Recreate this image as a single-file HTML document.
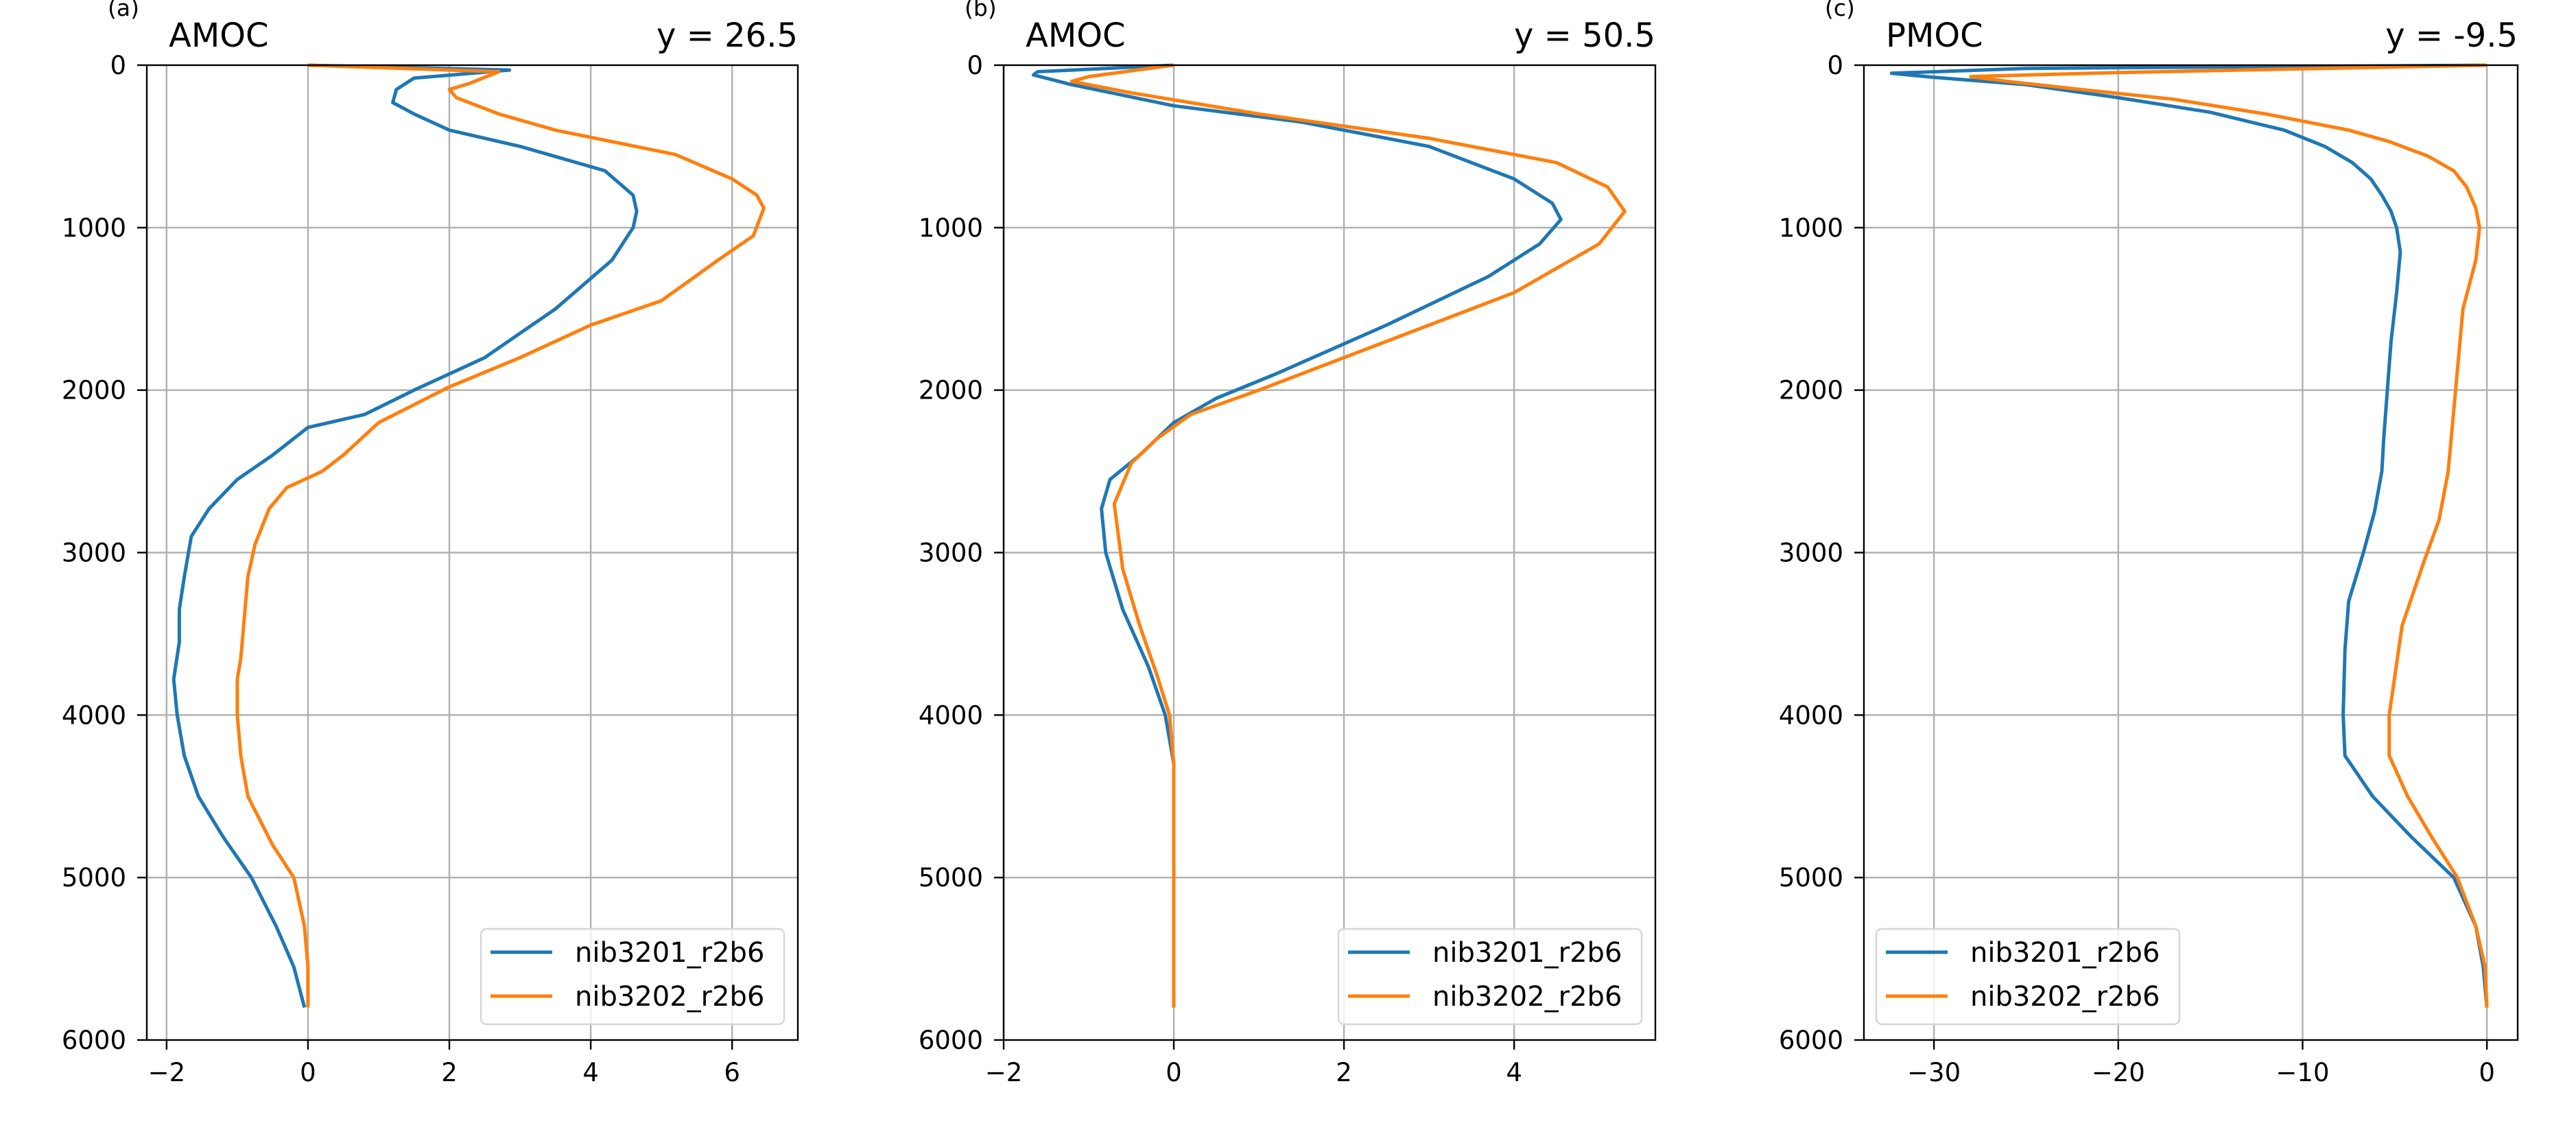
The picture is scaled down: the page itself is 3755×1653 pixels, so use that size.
<!DOCTYPE html>
<html><head><meta charset="utf-8"><style>
html,body{margin:0;padding:0;background:#fff;}
svg{display:block;font-family:"DejaVu Sans","Liberation Sans",sans-serif;}
</style></head><body>
<svg id="s" width="3755" height="1653" viewBox="0 0 3755 1653" xmlns="http://www.w3.org/2000/svg"></svg>
<script>
const S=document.getElementById('s');
const NS='http://www.w3.org/2000/svg';
function el(t,a,txt){const e=document.createElementNS(NS,t);for(const k in a)e.setAttribute(k,a[k]);if(txt!==undefined)e.textContent=txt;S.appendChild(e);return e;}
const TOP=95,BOT=1516;
const panels=[
 {L:214,R:1163,x0:-2.28,x1:6.93,ticks:[-2,0,2,4,6],lab:'(a)',t:'AMOC',tr:'y = 26.5',leg:[701,1143],
  b:[[0,0],[2.85,30],[1.5,80],[1.25,150],[1.2,230],[1.5,300],[2,400],[3,500],[4.2,650],[4.6,800],[4.65,900],[4.6,1000],[4.3,1200],[3.5,1500],[2.5,1800],[1.5,2000],[0.8,2150],[0,2230],[-0.5,2400],[-1,2550],[-1.4,2730],[-1.65,2900],[-1.75,3150],[-1.82,3350],[-1.82,3550],[-1.9,3780],[-1.85,4000],[-1.75,4250],[-1.55,4500],[-1.2,4750],[-0.8,5000],[-0.45,5300],[-0.2,5550],[-0.05,5800]],
  o:[[0,0],[2.7,40],[2.3,110],[2,150],[2.1,200],[2.7,300],[3.5,400],[5.2,550],[6,700],[6.35,800],[6.45,880],[6.3,1050],[5.8,1200],[5,1450],[4,1600],[3,1800],[2,1980],[1,2200],[0.5,2400],[0.2,2500],[-0.3,2600],[-0.55,2730],[-0.75,2950],[-0.85,3150],[-0.9,3400],[-0.95,3650],[-1,3780],[-1,4000],[-0.95,4250],[-0.85,4500],[-0.5,4800],[-0.2,5000],[-0.05,5300],[0,5550],[0,5800]]},
 {L:1463,R:2413,x0:-2,x1:5.66,ticks:[-2,0,2,4],lab:'(b)',t:'AMOC',tr:'y = 50.5',leg:[1951,2393],
  b:[[0,0],[-1.6,40],[-1.65,60],[-1.2,120],[0,250],[1.5,350],[3,500],[4,700],[4.45,850],[4.55,950],[4.3,1100],[3.7,1300],[2.5,1600],[1.2,1900],[0.5,2050],[0,2200],[-0.4,2400],[-0.75,2550],[-0.85,2730],[-0.8,3000],[-0.6,3350],[-0.3,3700],[-0.1,4000],[0,4300],[0,5800]],
  o:[[0,0],[-1,70],[-1.2,100],[-0.5,170],[1,300],[3,450],[4.5,600],[5.1,750],[5.3,900],[5,1100],[4,1400],[2.5,1700],[1,2000],[0.2,2150],[-0.2,2300],[-0.5,2450],[-0.7,2700],[-0.6,3100],[-0.4,3450],[-0.2,3750],[-0.05,4000],[0,4300],[0,5800]]},
 {L:2717,R:3670,x0:-33.8,x1:1.67,ticks:[-30,-20,-10,0],lab:'(c)',t:'PMOC',tr:'y = -9.5',leg:[2735,3177],
  b:[[0,0],[-25,20],[-32.3,50],[-30,75],[-25,120],[-20,200],[-15,290],[-11,400],[-8.8,500],[-7.3,600],[-6.3,700],[-5.7,800],[-5.2,900],[-4.9,1000],[-4.7,1150],[-4.9,1400],[-5.2,1700],[-5.4,2000],[-5.6,2300],[-5.7,2500],[-6.1,2750],[-6.7,3000],[-7.5,3300],[-7.7,3600],[-7.8,4000],[-7.7,4250],[-6.2,4500],[-4.1,4750],[-1.8,5000],[-0.6,5300],[-0.2,5550],[0,5800]],
  o:[[0,0],[-20,45],[-28,70],[-26,100],[-22,150],[-17,210],[-12,300],[-7.5,400],[-5.3,470],[-3.2,560],[-1.8,650],[-1.1,750],[-0.6,880],[-0.4,1000],[-0.6,1200],[-1.3,1500],[-1.7,2000],[-2.1,2500],[-2.6,2800],[-3.4,3050],[-4.6,3450],[-5.3,4000],[-5.3,4250],[-4.3,4500],[-3,4750],[-1.6,5000],[-0.6,5300],[-0.1,5550],[0,5800]]}
];
for(const p of panels){
 const X=v=>p.L+(v-p.x0)/(p.x1-p.x0)*(p.R-p.L);
 const Y=d=>TOP+d/6000*(BOT-TOP);
 for(let d=1000;d<6000;d+=1000) el('line',{x1:p.L,x2:p.R,y1:Y(d),y2:Y(d),stroke:'#b0b0b0','stroke-width':2.4});
 for(const t of p.ticks){const x=X(t);el('line',{x1:x,x2:x,y1:TOP,y2:BOT,stroke:'#b0b0b0','stroke-width':2.4});
  el('line',{x1:x,x2:x,y1:BOT,y2:BOT+14,stroke:'#000','stroke-width':2.4});
  el('text',{x:x,y:BOT+60,'font-size':37,'text-anchor':'middle'},(t<0?'\u2212':'')+Math.abs(t));}
 for(let d=0;d<=6000;d+=1000){el('line',{x1:p.L-14,x2:p.L,y1:Y(d),y2:Y(d),stroke:'#000','stroke-width':2.4});
  el('text',{x:p.L-30,y:Y(d)+13,'font-size':37,'text-anchor':'end'},String(d));}
 const pts=a=>a.map(q=>X(q[0]).toFixed(1)+','+Y(q[1]).toFixed(1)).join(' ');
 el('polyline',{points:pts(p.b),fill:'none',stroke:'#1f77b4','stroke-width':5,'stroke-linejoin':'round'});
 el('polyline',{points:pts(p.o),fill:'none',stroke:'#ff7f0e','stroke-width':5,'stroke-linejoin':'round'});
 el('rect',{x:p.L,y:TOP,width:p.R-p.L,height:BOT-TOP,fill:'none',stroke:'#000','stroke-width':2.4});
 el('text',{x:p.L-57,y:23,'font-size':33},p.lab);
 el('text',{x:p.L+32,y:68,'font-size':48},p.t);
 el('text',{x:p.R,y:68,'font-size':48,'text-anchor':'end'},p.tr);
 const [a,b]=p.leg;
 el('rect',{x:a,y:1354,width:b-a,height:139,rx:8,fill:'rgba(255,255,255,0.8)',stroke:'#d6d6d6','stroke-width':2.4});
 el('line',{x1:a+14,x2:a+104,y1:1388,y2:1388,stroke:'#1f77b4','stroke-width':5});
 el('line',{x1:a+14,x2:a+104,y1:1452,y2:1452,stroke:'#ff7f0e','stroke-width':5});
 el('text',{x:a+137,y:1402,'font-size':40},'nib3201_r2b6');
 el('text',{x:a+137,y:1466,'font-size':40},'nib3202_r2b6');
}
</script>
</body></html>
